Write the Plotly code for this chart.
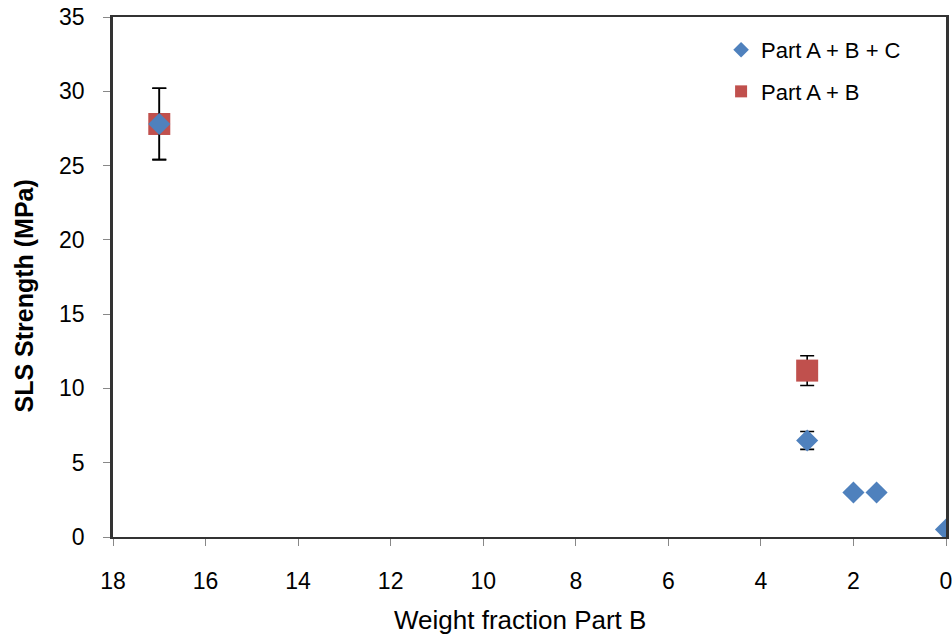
import plotly.graph_objects as go

# Data
abc_x = [17, 3, 2, 1.5, 0]
abc_y = [27.8, 6.5, 3.0, 3.0, 0.5]
abc_err = [2.4, 0.6, 0, 0, 0]

ab_x = [17, 3]
ab_y = [27.8, 11.2]
ab_err = [2.4, 1.0]

x_ticks = [18, 16, 14, 12, 10, 8, 6, 4, 2, 0]
y_ticks = [0, 5, 10, 15, 20, 25, 30, 35]

font_family = "Liberation Sans, Arial, sans-serif"

fig = go.Figure()
fig.add_trace(go.Scatter(
    x=ab_x, y=ab_y, mode="markers", name="Part A + B",
    marker=dict(symbol="square", size=22, color="#C0504D"),
    error_y=dict(type="data", array=ab_err, visible=True, color="black", thickness=1.6, width=7),
    legendrank=2, legendgroup="ab",
))
fig.add_trace(go.Scatter(
    x=abc_x, y=abc_y, mode="markers", name="Part A + B + C",
    marker=dict(symbol="diamond", size=17, color="#4F81BD"),
    error_y=dict(type="data", array=abc_err, visible=True, color="black", thickness=1.6, width=7),
    legendrank=1, legendgroup="abc",
))

fig.add_annotation(text="Weight fraction Part B", xref="paper", yref="paper",
                   x=0.5, xshift=-10, y=0, yshift=-83, yanchor="middle", xanchor="center",
                   showarrow=False, font=dict(size=26, color="black"))
fig.add_annotation(text="<b>SLS Strength (MPa)</b>", xref="paper", yref="paper",
                   x=0, xshift=-90, y=0.4625, xanchor="center", yanchor="middle",
                   textangle=-90, showarrow=False, font=dict(size=25, color="black"))

fig.update_layout(
    height=635,
    autosize=True,
    margin=dict(l=113, r=0, t=17, b=98),
    paper_bgcolor="white", plot_bgcolor="white",
    font=dict(family=font_family, size=23, color="black"),
    showlegend=True,
    hovermode=False,
    legend=dict(x=0.73, y=0.977, xanchor="left", yanchor="top",
                font=dict(size=22, color="black"), bgcolor="rgba(0,0,0,0)",
                itemsizing="constant", traceorder="grouped", tracegroupgap=10),
    xaxis=dict(range=[18, 0], tickvals=x_ticks, ticktext=[str(v) for v in x_ticks],
               showgrid=False, zeroline=False, showline=True, linecolor="#333", linewidth=2,
               mirror=True, ticks="outside", ticklen=7, tickcolor="#888", tickwidth=1,
               ticklabelstandoff=15, ticklabeloverflow="allow",
               tickfont=dict(size=23)),
    yaxis=dict(range=[0, 35], tickvals=y_ticks, showgrid=False, zeroline=False,
               showline=True, linecolor="#333", linewidth=2.5, mirror=True,
               ticks="outside", ticklen=7, tickcolor="#888", tickwidth=1,
               ticklabelstandoff=14, ticklabeloverflow="allow",
               tickfont=dict(size=23)),
)

fig.write_html(
    "out.html",
    config={"displayModeBar": False, "responsive": True},
    post_script="document.body.style.margin='0';document.body.style.overflow='hidden';"
                "Plotly.Plots.resize(document.getElementById('{plot_id}'));",
)
